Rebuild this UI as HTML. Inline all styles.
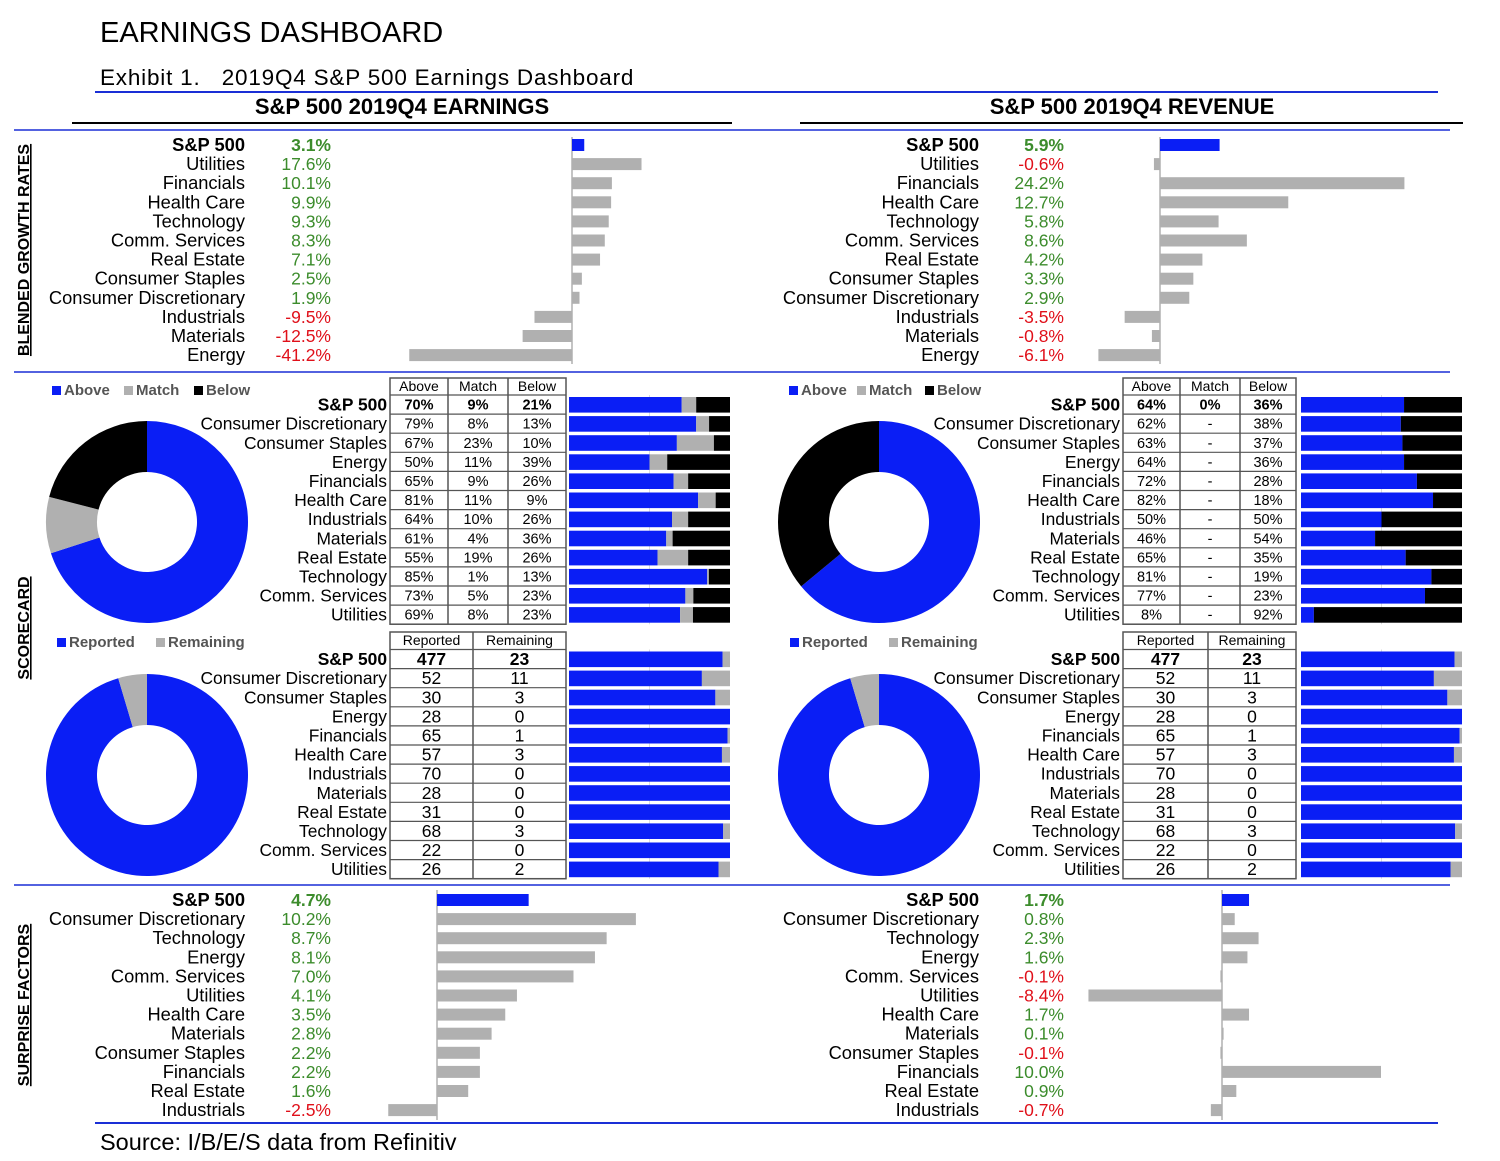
<!DOCTYPE html>
<html><head><meta charset="utf-8"><style>
html,body{margin:0;padding:0;background:#fff;}
svg{display:block;font-family:"Liberation Sans",Arial,sans-serif;}
</style></head><body>
<svg id="dash" width="1500" height="1161" viewBox="0 0 1500 1161" xmlns="http://www.w3.org/2000/svg">
<text x="100" y="42" font-size="29" fill="#000">EARNINGS DASHBOARD</text>
<text x="100" y="85" font-size="22.5" letter-spacing="0.8" fill="#000">Exhibit 1.&#160;&#160;&#160;2019Q4 S&amp;P 500 Earnings Dashboard</text>
<line x1="95" y1="92" x2="1438" y2="92" stroke="#1a2fd6" stroke-width="2"/>
<text x="402" y="114" font-size="22" font-weight="bold" text-anchor="middle">S&amp;P 500 2019Q4 EARNINGS</text>
<line x1="72" y1="123" x2="732" y2="123" stroke="#000" stroke-width="2"/>
<text x="1132" y="114" font-size="22" font-weight="bold" text-anchor="middle">S&amp;P 500 2019Q4 REVENUE</text>
<line x1="800" y1="123" x2="1463" y2="123" stroke="#000" stroke-width="2"/>
<line x1="14" y1="130" x2="1450" y2="130" stroke="#1a2fd6" stroke-width="1.5"/>
<line x1="14" y1="372" x2="1450" y2="372" stroke="#1a2fd6" stroke-width="1.5"/>
<line x1="14" y1="885" x2="1450" y2="885" stroke="#1a2fd6" stroke-width="1.5"/>
<line x1="95" y1="1123" x2="1438" y2="1123" stroke="#1a2fd6" stroke-width="2"/>
<text x="100" y="1150" font-size="23.5">Source: I/B/E/S data from Refinitiv</text>
<text transform="translate(29,250) rotate(-90)" font-size="16" font-weight="bold" text-anchor="middle" text-decoration="underline">BLENDED GROWTH RATES</text>
<text transform="translate(29,628) rotate(-90)" font-size="16" font-weight="bold" text-anchor="middle" text-decoration="underline">SCORECARD</text>
<text transform="translate(29,1005) rotate(-90)" font-size="16" font-weight="bold" text-anchor="middle" text-decoration="underline">SURPRISE FACTORS</text>
<g id="g"></g>
</svg>
<script>
const growthCats=["S&P 500","Utilities","Financials","Health Care","Technology","Comm. Services","Real Estate","Consumer Staples","Consumer Discretionary","Industrials","Materials","Energy"];
const growthEarn=[3.1,17.6,10.1,9.9,9.3,8.3,7.1,2.5,1.9,-9.5,-12.5,-41.2];
const growthCatsRev=["S&P 500","Utilities","Financials","Health Care","Technology","Comm. Services","Real Estate","Consumer Staples","Consumer Discretionary","Industrials","Materials","Energy"];
const growthRev=[5.9,-0.6,24.2,12.7,5.8,8.6,4.2,3.3,2.9,-3.5,-0.8,-6.1];
const scoreCats=["S&P 500","Consumer Discretionary","Consumer Staples","Energy","Financials","Health Care","Industrials","Materials","Real Estate","Technology","Comm. Services","Utilities"];
const earnAbove=[70,79,67,50,65,81,64,61,55,85,73,69];
const earnMatch=[9,8,23,11,9,11,10,4,19,1,5,8];
const earnBelow=[21,13,10,39,26,9,26,36,26,13,23,23];
const revAbove=[64,62,63,64,72,82,50,46,65,81,77,8];
const revMatch=[0,0,0,0,0,0,0,0,0,0,0,0];
const revBelow=[36,38,37,36,28,18,50,54,35,19,23,92];
const reported=[477,52,30,28,65,57,70,28,31,68,22,26];
const remaining=[23,11,3,0,1,3,0,0,0,3,0,2];
const surpCatsEarn=["S&P 500","Consumer Discretionary","Technology","Energy","Comm. Services","Utilities","Health Care","Materials","Consumer Staples","Financials","Real Estate","Industrials"];
const surpEarn=[4.7,10.2,8.7,8.1,7.0,4.1,3.5,2.8,2.2,2.2,1.6,-2.5];
const surpCatsRev=["S&P 500","Consumer Discretionary","Technology","Energy","Comm. Services","Utilities","Health Care","Materials","Consumer Staples","Financials","Real Estate","Industrials"];
const surpRev=[1.7,0.8,2.3,1.6,-0.1,-8.4,1.7,0.1,-0.1,10.0,0.9,-0.7];

const NS="http://www.w3.org/2000/svg";
const G=document.getElementById('g');
const BLUE="#0a1ef5",GRAY="#b0b0b0",GREEN="#3c8c2c",RED="#e0101a";
function mk(tag,attrs,txt){const e=document.createElementNS(NS,tag);for(const k in attrs)e.setAttribute(k,attrs[k]);if(txt!=null)e.textContent=txt;G.appendChild(e);return e;}

function barSection(prefix,cats,vals,y0,step,labelX,valX,zeroX,scale,axTop,axBot){
  const x=v=>zeroX+v*scale;
  const line=mk('line',{x1:zeroX,x2:zeroX,y1:axTop,y2:axBot,stroke:"#888","stroke-width":1});
  
  
  cats.forEach((c,i)=>{
    const y=y0+i*step;const v=vals[i];
    const l=mk('text',{x:labelX,y:y+6,'font-size':18.3,'text-anchor':'end','font-weight':i==0?'bold':'normal'},c);
    
    
    const t=mk('text',{x:valX,y:y+6,'font-size':17.5,'text-anchor':'end','font-weight':i==0?'bold':'normal',fill:v<0?RED:GREEN},v.toFixed(1)+'%');
    
    
    const a=x(Math.min(0,v)),b=x(Math.max(0,v));
    const r=mk('rect',{x:a,y:y-6,width:Math.max(b-a,0.8),height:12,fill:i==0?BLUE:GRAY});
    
    
  });
}
barSection('earnings-growth',growthCats,growthEarn,145,19.1,245,331,572,3.95,137,364);
barSection('revenue-growth',growthCatsRev,growthRev,145,19.1,979,1064,1160,10.1,137,364);
barSection('earnings-surprise',surpCatsEarn,surpEarn,900,19.1,245,331,437,19.5,890,1120);
barSection('revenue-surprise',surpCatsRev,surpRev,900,19.1,979,1064,1222,15.9,890,1120);

function arc(cx,cy,R,r,a0,a1,fill,name){
  const p=(a,rad)=>[cx+rad*Math.sin(a*2*Math.PI),cy-rad*Math.cos(a*2*Math.PI)];
  if(a1-a0<=0)return;
  if(a1-a0>=0.9999){a1=a0+0.99999;}
  const lg=(a1-a0)>0.5?1:0;
  const [x0,y0]=p(a0,R),[x1,y1]=p(a1,R),[x2,y2]=p(a1,r),[x3,y3]=p(a0,r);
  const e=mk('path',{d:`M${x0},${y0}A${R},${R} 0 ${lg} 1 ${x1},${y1}L${x2},${y2}A${r},${r} 0 ${lg} 0 ${x3},${y3}Z`,fill:fill});
  
  
}
function donut(prefix,cx,cy,vals,cols,names){
  const tot=vals.reduce((s,v)=>s+v,0);let a=0;
  vals.forEach((v,i)=>{const f=v/tot;arc(cx,cy,101,50,a,a+f,cols[i],prefix+'-'+names[i]+'-slice');a+=f;});
}
function legend(prefix,x,y,items,cols,gaps){
  let cx=x;
  items.forEach((it,i)=>{
    const s=mk('rect',{x:cx,y:y-9,width:9,height:9,fill:cols[i]});
    
    
    const t=mk('text',{x:cx+12,y:y,'font-size':15,'font-weight':'bold',fill:'#555'},it);
    
    
    cx+=gaps[i];
  });
}
function table(prefix,x,cols,headers,hTop,rowTop,step,cells,labelX,big){
  const n=cells.length;const right=cols[cols.length-1];
  const bot=rowTop+n*step;
  const border={fill:'none',stroke:'#555','stroke-width':1.5};
  const b=mk('rect',Object.assign({x:cols[0],y:hTop,width:right-cols[0],height:bot-hTop},border));
  
  
  for(let j=1;j<cols.length-1;j++){const l=mk('line',{x1:cols[j],x2:cols[j],y1:hTop,y2:bot,stroke:'#555','stroke-width':1.5});}
  for(let i=0;i<=n;i++){const yy=rowTop+i*step;const l=mk('line',{x1:cols[0],x2:right,y1:yy,y2:yy,stroke:'#555','stroke-width':1.2});}
  headers.forEach((h,j)=>{const t=mk('text',{x:(cols[j]+cols[j+1])/2,y:hTop+13,'font-size':14,'text-anchor':'middle'},h);});
  cells.forEach((row,i)=>{
    const yc=rowTop+i*step+step/2;
    const l=mk('text',{x:labelX,y:yc+6,'font-size':17.4,'text-anchor':'end','font-weight':i==0?'bold':'normal'},scoreCats[i]);
    
    
    row.forEach((c,j)=>{const t=mk('text',{x:(cols[j]+cols[j+1])/2,y:yc+(big?6:5),'font-size':big?17.5:14.5,'text-anchor':'middle','font-weight':i==0?'bold':'normal'},c);});
  });
}
function stackBars(prefix,x0,w,rowTop,step,series,cols){
  const g=mk('line',{x1:x0+w/2,x2:x0+w/2,y1:rowTop,y2:rowTop+12*step,stroke:'#ddd','stroke-width':1});
  
  
  for(let i=0;i<series[0].length;i++){
    const tot=series.reduce((s,a)=>s+a[i],0);let cx=x0;
    series.forEach((a,k)=>{const ww=a[i]/tot*w;if(ww>0){const r=mk('rect',{x:cx,y:rowTop+i*step+2,width:ww,height:step-3.5,fill:cols[k]});}cx+=ww;});
  }
}
const pct=v=>v+'%';
legend('earnings-beat',52,395,['Above','Match','Below'],[BLUE,GRAY,'#000'],[72,70,60]);
donut('earnings-beat',147,522,[earnAbove[0],earnMatch[0],earnBelow[0]],[BLUE,GRAY,'#000'],['above','match','below']);
table('earnings-beat',390,[390,448,508,566],['Above','Match','Below'],378,395,19.1,earnAbove.map((v,i)=>[pct(v),pct(earnMatch[i]),pct(earnBelow[i])]),387,false);
stackBars('earnings-beat',569,161,395,19.1,[earnAbove,earnMatch,earnBelow],[BLUE,GRAY,'#000']);
legend('revenue-beat',789,395,['Above','Match','Below'],[BLUE,GRAY,'#000'],[68,68,60]);
donut('revenue-beat',879,522,[revAbove[0],revMatch[0],revBelow[0]],[BLUE,GRAY,'#000'],['above','match','below']);
table('revenue-beat',1123,[1123,1180,1240,1296],['Above','Match','Below'],378,395,19.1,revAbove.map((v,i)=>[pct(v),i==0?pct(revMatch[i]):'-',pct(revBelow[i])]),1120,false);
stackBars('revenue-beat',1301,161,395,19.1,[revAbove,revMatch,revBelow],[BLUE,GRAY,'#000']);
['earnings','revenue'].forEach((p,s)=>{
  const off=s?733:0;
  legend(p+'-reported',57+off,647,['Reported','Remaining'],[BLUE,GRAY],[99,100]);
  donut(p+'-reported',147+off-(s?1:0),775,[reported[0],remaining[0]],[BLUE,GRAY],['reported','remaining']);
  const c=s?[1123,1208,1296]:[390,473,566];
  table(p+'-reported',c[0],c,['Reported','Remaining'],632,649.5,19.1,reported.map((v,i)=>[String(v),String(remaining[i])]),s?1120:387,true);
  stackBars(p+'-reported',s?1301:569,161,649.5,19.1,[reported,remaining],[BLUE,GRAY]);
});
</script>
</body></html>
